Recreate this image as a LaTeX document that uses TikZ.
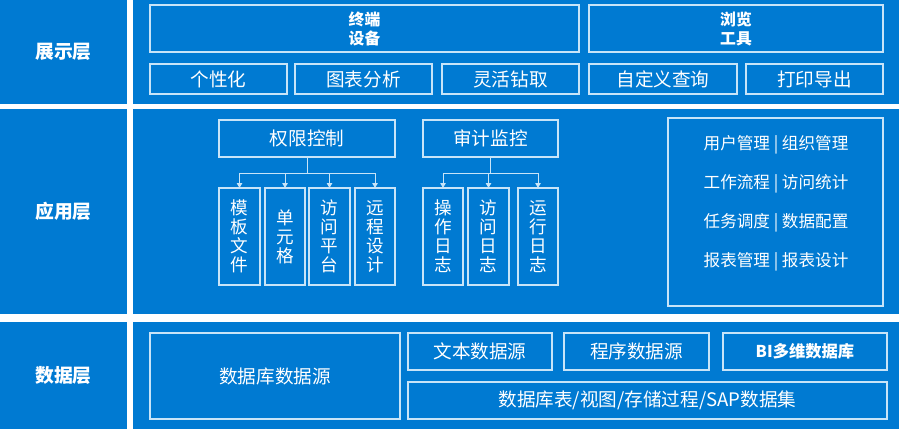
\documentclass[tikz,border=0pt]{standalone}
\usepackage{fontspec}
\setmainfont{Noto Sans CJK SC}
\usetikzlibrary{arrows.meta}
\definecolor{panelblue}{RGB}{0,122,210}
\definecolor{edgecol}{RGB}{200,228,248}
\begin{document}
\begin{tikzpicture}[x=1pt,y=-1pt,
  panel/.style={fill=panelblue,draw=none,inner sep=0,outer sep=0,anchor=north west,text=white},
  layerlabel/.style={panel,font=\fontsize{18.8}{20}\selectfont\bfseries},
  box/.style={draw=edgecol,line width=1.1pt,inner sep=0,outer sep=0,text=white,align=center,
    font=\fontsize{18.6}{20}\selectfont},
  boldbox/.style={box,font=\fontsize{15.8}{19}\selectfont\bfseries},
  vbox/.style={box,font=\fontsize{17.6}{19}\selectfont,minimum width=40,minimum height=97},
  link/.style={draw=edgecol,line width=1pt},
  arrowlink/.style={link,-{Triangle[width=5.5pt,length=5pt]}},
  plain/.style={inner sep=0,outer sep=0,text=white,align=center}
]
\useasboundingbox (0,0) rectangle (899,429);
\fill[white] (0,0) rectangle (899,429);
% layer labels and panels
\node[layerlabel,minimum width=127,minimum height=104] (l1) at (0,0) {展示层};
\node[panel,minimum width=766,minimum height=104] (m1) at (133,0) {};
\node[layerlabel,minimum width=127,minimum height=205] (l2) at (0,109) {应用层};
\node[panel,minimum width=766,minimum height=205] (m2) at (133,109) {};
\node[layerlabel,minimum width=127,minimum height=107] (l3) at (0,322) {数据层};
\node[panel,minimum width=766,minimum height=107] (m3) at (133,322) {};
% presentation layer
\node[boldbox,minimum width=429,minimum height=47] (zd) at (364.5,28.5) {终端\\设备};
\node[boldbox,minimum width=294,minimum height=47] (ll) at (736,28.5) {浏览\\工具};
\node[box,minimum width=137,minimum height=30] (gx) at (218.5,79) {个性化};
\node[box,minimum width=137,minimum height=30] (tb) at (363.5,79) {图表分析};
\node[box,minimum width=137,minimum height=30] (lh) at (510.5,79) {灵活钻取};
\node[box,minimum width=148,minimum height=30] (zdy) at (663,79) {自定义查询};
\node[box,minimum width=137,minimum height=30] (dy) at (814.5,79) {打印导出};
% application layer
\node[box,minimum width=176,minimum height=37] (qx) at (307,138.5) {权限控制};
\node[box,minimum width=135,minimum height=37] (sj) at (490.5,138.5) {审计监控};
\node[vbox,minimum width=41] (c1) at (239.5,236.5) {模\\板\\文\\件};
\node[vbox] (c2) at (285,236.5) {单\\元\\格};
\node[vbox,minimum width=41] (c3) at (329.5,236.5) {访\\问\\平\\台};
\node[vbox] (c4) at (375,236.5) {远\\程\\设\\计};
\node[vbox] (d1) at (443,236.5) {操\\作\\日\\志};
\node[vbox,minimum width=41] (d2) at (488.5,236.5) {访\\问\\日\\志};
\node[vbox] (d3) at (538,236.5) {运\\行\\日\\志};
\draw[link] (qx.south) -- ++(0,16) coordinate (qj);
\foreach \c in {c1,c2,c3,c4} \draw[arrowlink] (qj) -| (\c.north);
\draw[link] (sj.south) -- ++(0,16) coordinate (sjj);
\foreach \c in {d1,d2,d3} \draw[arrowlink] (sjj) -| (\c.north);
\node[box,minimum width=215,minimum height=188] (mg) at (775.5,212) {};
\node[plain,font=\fontsize{16.6}{39}\selectfont] (mgt) at (776,203)
  {用户管理 | 组织管理\\工作流程 | 访问统计\\任务调度 | 数据配置\\报表管理 | 报表设计};
% data layer
\node[box,minimum width=250,minimum height=86] (dbs) at (275,376) {数据库数据源};
\node[box,minimum width=144,minimum height=37] (txt) at (480,351.5) {文本数据源};
\node[box,minimum width=145,minimum height=37] (prg) at (636.5,351.5) {程序数据源};
\node[boldbox,minimum width=164,minimum height=37,font=\fontsize{16.3}{19}\selectfont\bfseries] (bi) at (805,351.5) {BI多维数据库};
\node[box,minimum width=479,minimum height=37] (tbl) at (647.5,400.5) {数据库表/视图/存储过程/SAP数据集};
\end{tikzpicture}
\end{document}
